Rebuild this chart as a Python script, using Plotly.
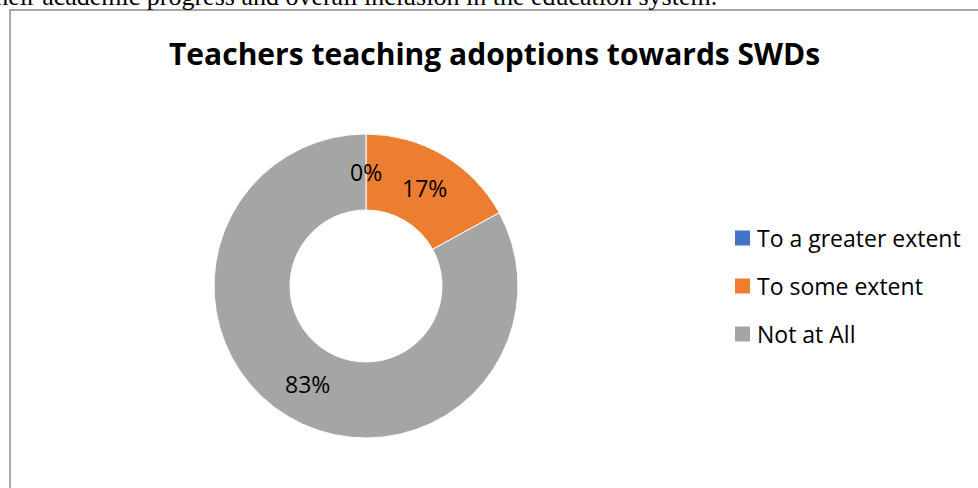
import plotly.graph_objects as go
import math

W, H = 978, 488

title = "Teachers teaching adoptions towards SWDs"
categories = ["To a greater extent", "To some extent", "Not at All"]
values = [0, 17, 83]
colors = ["#4472C4", "#ED7D31", "#A5A5A5"]
top_text = "their academic progress and overall inclusion in the education system."

# geometry in pixels
cx, cy, R = 366, 286, 152
hole = 0.5

def px(x):
    return x / W

def py(y):
    return (H - y) / H

fig = go.Figure()
fig.add_trace(go.Pie(
    labels=categories,
    values=values,
    hole=hole,
    sort=False,
    direction="clockwise",
    rotation=0,
    marker=dict(colors=colors, line=dict(color="white", width=1)),
    textinfo="none",
    hoverinfo="label+percent",
    showlegend=False,
    domain=dict(x=[px(cx - R), px(cx + R)], y=[py(cy + R), py(cy - R)]),
))

annotations = []
shapes = []

# data labels at mid-ring of each slice
total = sum(values)
cum = 0
rmid = R * (1 + hole) / 2
for v in values:
    theta = (cum + v / 2) / total * 2 * math.pi
    cum += v
    lx = cx + rmid * math.sin(theta)
    ly = cy - rmid * math.cos(theta)
    annotations.append(dict(
        x=px(lx), y=py(ly), xref="paper", yref="paper",
        text=f"{v}%", showarrow=False, xanchor="center", yanchor="middle",
        font=dict(family="Open Sans", size=23, color="#000000"),
    ))

# manual legend
for i, (lab, col) in enumerate(zip(categories, colors)):
    yc = 238 + 48 * i
    shapes.append(dict(
        type="rect", xref="paper", yref="paper",
        x0=px(735), x1=px(750), y0=py(yc + 7.5), y1=py(yc - 7.5),
        fillcolor=col, line=dict(width=0),
    ))
    annotations.append(dict(
        x=px(755), y=py(yc), xref="paper", yref="paper",
        text=lab, showarrow=False, xanchor="left", yanchor="middle",
        font=dict(family="Open Sans", size=23, color="#000000"),
    ))

# title
annotations.append(dict(
    x=px(494), y=py(54), xref="paper", yref="paper",
    text=f"<b>{title}</b>", showarrow=False, xanchor="center", yanchor="middle",
    font=dict(family="Open Sans", size=30, color="#000000"),
))

# cut-off document text above chart
annotations.append(dict(
    x=px(719), y=py(13), xref="paper", yref="paper",
    text=top_text, showarrow=False, xanchor="right", yanchor="bottom",
    font=dict(family="Liberation Serif", size=26, color="#000000"),
))

# chart border
shapes.append(dict(
    type="rect", xref="paper", yref="paper",
    x0=px(10), x1=px(W + 20), y0=py(H + 20), y1=py(10),
    line=dict(color="#8a8a8a", width=1.5), fillcolor="rgba(0,0,0,0)",
))

fig.update_layout(
    width=W, height=H,
    margin=dict(l=0, r=0, t=0, b=0),
    paper_bgcolor="white",
    plot_bgcolor="white",
    annotations=annotations,
    shapes=shapes,
)

fig.write_html("out.html")
